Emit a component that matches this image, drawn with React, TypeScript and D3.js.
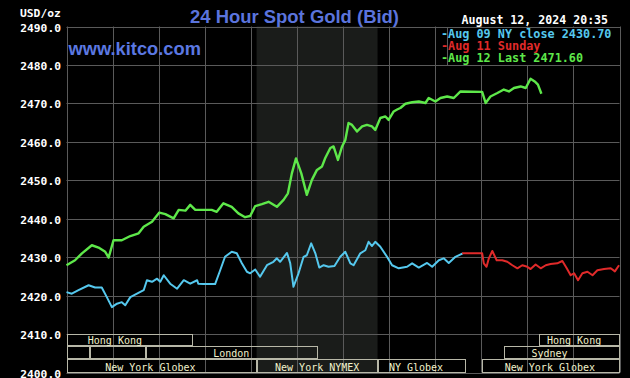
import React from "react";
import * as d3 from "d3";

// ---- data (time in hours ET, value USD/oz) ----
const aug12Hours = [0, 0.37, 0.67, 1.1, 1.39, 1.68, 1.83, 2.04, 2.4, 2.77, 3.13, 3.35, 3.71, 4.03, 4.29, 4.65, 4.87, 5.16, 5.37, 5.59, 5.85, 6.3, 6.52, 6.81, 7.17, 7.46, 7.75, 7.97, 8.19, 8.48, 8.77, 9.13, 9.42, 9.61, 9.78, 9.96, 10.19, 10.43, 10.65, 10.87, 11.09, 11.23, 11.45, 11.59, 11.78, 11.96, 12.1, 12.24, 12.39, 12.61, 12.83, 13.04, 13.26, 13.4, 13.62, 13.84, 13.98, 14.2, 14.35, 14.49, 14.71, 15.0, 15.29, 15.58, 15.72, 16.01, 16.23, 16.52, 16.81, 17.1, 18.04, 18.19, 18.4, 18.7, 18.98, 19.2, 19.42, 19.71, 19.93, 20.14, 20.32, 20.46, 20.61];
const aug12Values = [2427.9, 2429.2, 2431.0, 2433.1, 2432.5, 2431.4, 2429.9, 2434.4, 2434.4, 2435.5, 2436.2, 2437.9, 2439.2, 2441.6, 2441.2, 2440.1, 2442.3, 2442.1, 2443.6, 2442.3, 2442.3, 2442.3, 2441.8, 2444.0, 2443.1, 2441.4, 2440.4, 2440.7, 2443.3, 2443.8, 2444.4, 2443.1, 2444.9, 2446.6, 2451.8, 2455.7, 2451.8, 2446.2, 2450.1, 2452.7, 2453.6, 2455.8, 2458.4, 2458.8, 2455.3, 2458.8, 2460.5, 2464.9, 2464.4, 2462.7, 2464.0, 2464.4, 2464.0, 2463.1, 2466.2, 2466.6, 2465.7, 2467.9, 2468.4, 2468.8, 2469.9, 2470.3, 2470.5, 2470.1, 2471.4, 2470.5, 2471.4, 2471.8, 2471.4, 2473.1, 2473.0, 2470.1, 2471.8, 2472.7, 2473.6, 2473.1, 2474.0, 2474.4, 2474.0, 2476.4, 2475.7, 2474.9, 2472.5];

const aug09Hours = [0, 0.23, 0.52, 0.96, 1.24, 1.53, 1.75, 1.97, 2.19, 2.4, 2.55, 2.77, 3.06, 3.35, 3.49, 3.71, 3.93, 4.07, 4.22, 4.5, 4.8, 5.09, 5.37, 5.67, 5.72, 5.94, 6.45, 6.67, 6.88, 7.17, 7.39, 7.61, 7.83, 7.97, 8.19, 8.4, 8.7, 8.98, 9.13, 9.27, 9.57, 9.71, 9.85, 10.07, 10.29, 10.43, 10.62, 10.8, 10.97, 11.16, 11.37, 11.63, 11.88, 12.1, 12.32, 12.46, 12.75, 12.97, 13.11, 13.26, 13.4, 13.62, 13.91, 14.13, 14.42, 14.78, 15.0, 15.29, 15.65, 15.87, 16.16, 16.37, 16.59, 16.88, 17.2];
const aug09Values = [2420.9, 2420.5, 2421.4, 2422.7, 2422.1, 2422.1, 2419.6, 2417.0, 2417.9, 2418.3, 2417.5, 2419.6, 2420.5, 2421.4, 2424.0, 2423.6, 2424.4, 2423.6, 2425.3, 2423.1, 2421.8, 2424.0, 2423.1, 2424.0, 2423.1, 2423.0, 2423.0, 2426.6, 2430.1, 2431.4, 2431.0, 2428.4, 2426.2, 2425.8, 2426.8, 2424.9, 2427.9, 2428.8, 2429.7, 2428.8, 2431.1, 2428.4, 2422.3, 2425.8, 2430.1, 2430.5, 2433.6, 2431.0, 2427.3, 2427.9, 2427.5, 2427.7, 2430.1, 2431.4, 2428.4, 2427.9, 2431.0, 2431.8, 2434.0, 2432.9, 2434.0, 2432.7, 2430.1, 2427.9, 2427.1, 2427.5, 2428.4, 2427.3, 2428.5, 2427.5, 2429.2, 2429.7, 2428.5, 2430.1, 2431.0];

const aug11Hours = [17.17, 18.04, 18.11, 18.23, 18.33, 18.48, 18.67, 18.91, 19.13, 19.35, 19.57, 19.78, 20.0, 20.14, 20.36, 20.58, 20.8, 21.01, 21.3, 21.52, 21.71, 21.88, 22.03, 22.2, 22.39, 22.61, 22.83, 23.04, 23.33, 23.62, 23.8, 23.98];
const aug11Values = [2431.0, 2431.0, 2428.4, 2427.5, 2429.7, 2431.6, 2429.2, 2429.2, 2428.8, 2427.9, 2427.1, 2427.9, 2427.5, 2426.9, 2428.1, 2427.1, 2427.9, 2428.2, 2428.4, 2429.0, 2427.1, 2425.3, 2425.8, 2424.0, 2425.8, 2426.2, 2425.3, 2426.6, 2426.9, 2427.1, 2426.3, 2427.9];

const yTicks = [2400, 2410, 2420, 2430, 2440, 2450, 2460, 2470, 2480, 2490];
const xGridHours = [0, 2, 4, 6, 8, 10, 12, 14, 16, 18, 20, 22, 24];

const legendLabels = ["-Aug 09 NY close 2430.70", "-Aug 11 Sunday", "-Aug 12 Last 2471.60"];
const legendColors = ["#55c8ee", "#e02a2a", "#5ee84a"];

// sessions: row, start hour, end hour, label, label centre hour
const sessionRows = [0, 0, 1, 1, 1, 1, 2, 2, 2, 2];
const sessionStarts = [0, 20.5, 0, 1, 3.45, 18.97, 0, 8.25, 13.5, 18.02];
const sessionEnds = [5.48, 24, 1, 3.45, 10.93, 24, 8.25, 13.5, 17.33, 24];
const sessionNames = ["Hong Kong", "Hong Kong", "", "", "London", "Sydney", "New York Globex", "New York NYMEX", "NY Globex", "New York Globex"];
const sessionLabelAt = [2.1, 22.03, 0, 0, 7.15, 20.96, 3.64, 10.88, 15.17, 20.98];

const shadeStart = 8.25;
const shadeEnd = 13.5;

export default function App() {
  React.useEffect(() => {
    document.body.style.margin = "0";
    document.body.style.background = "#000";
  }, []);

  const W = 630, H = 378;
  const x = d3.scaleLinear().domain([0, 24]).range([66.5, 619.5]);
  const y = d3.scaleLinear().domain([2400, 2490]).range([372.5, 26.5]);

  const mk = (hs: number[], vs: number[]) =>
    d3.line<number>().x((_, i) => x(hs[i])).y((v) => y(v))(vs) || "";

  const grid = "#5a5a5a";
  const mono = "'DejaVu Sans Mono', 'Liberation Mono', monospace";
  const sans = "'Liberation Sans', Arial, sans-serif";

  const rowTop = [y(2410), y(2410) + 12.3, y(2410) + 25];
  const rowBot = [y(2410) + 12.3, y(2410) + 25, y(2400)];

  return (
    <svg width={W} height={H} style={{ position: "absolute", left: 0, top: 0, background: "#000" }}>
      <rect x={0} y={0} width={W} height={H} fill="#000" />
      <rect x={x(shadeStart)} y={y(2490)} width={x(shadeEnd) - x(shadeStart)} height={y(2400) - y(2490)} fill="#1a1c1a" />
      {yTicks.map((t) => (
        <line key={"gy" + t} x1={x(0)} x2={x(24)} y1={Math.round(y(t)) + 0.5} y2={Math.round(y(t)) + 0.5} stroke={grid} strokeWidth={1} />
      ))}
      {xGridHours.map((h) => (
        <line key={"gx" + h} x1={Math.round(x(h)) + 0.5} x2={Math.round(x(h)) + 0.5} y1={y(2490)} y2={y(2400)} stroke={grid} strokeWidth={1} />
      ))}
      {yTicks.map((t) => (
        <text key={"ty" + t} x={61} y={Math.round(y(t)) + 4.5} textAnchor="end" fill="#fff" fontFamily={mono} fontWeight="bold" fontSize={11.3}>
          {t.toFixed(1)}
        </text>
      ))}
      <text x={20} y={17} fill="#fff" fontFamily={mono} fontWeight="bold" fontSize={11.3}>USD/oz</text>

      {/* session bars */}
      {sessionRows.map((r, i) => {
        const x0 = Math.round(x(sessionStarts[i])) + 0.5;
        const x1 = Math.round(x(sessionEnds[i])) - 0.5;
        return (
          <g key={"s" + i}>
            <rect x={x0} y={Math.round(rowTop[r]) + 0.5} width={x1 - x0} height={Math.round(rowBot[r]) - Math.round(rowTop[r]) - 1} fill="none" stroke="#b8b8a8" strokeWidth={1} />
            {sessionNames[i] && (
              <text x={x(sessionLabelAt[i])} y={Math.round(rowBot[r]) - 2.5} textAnchor="middle" fill="#f2f2cc" fontFamily={mono} fontSize={10}>
                {sessionNames[i]}
              </text>
            )}
          </g>
        );
      })}

      {/* series */}
      <path d={mk(aug09Hours, aug09Values)} fill="none" stroke="#55c8ee" strokeWidth={2} strokeLinejoin="round" />
      <path d={mk(aug11Hours, aug11Values)} fill="none" stroke="#e02a2a" strokeWidth={2} strokeLinejoin="round" />
      <path d={mk(aug12Hours, aug12Values)} fill="none" stroke="#5ee84a" strokeWidth={2.4} strokeLinejoin="round" />

      {/* legend */}
      <rect x={Math.round(x(16.5)) + 0.5} y={Math.round(y(2490)) + 0.5} width={Math.round(x(24)) - Math.round(x(16.5))} height={Math.round(y(2480)) - Math.round(y(2490))} fill="#000" stroke={grid} strokeWidth={1} />
      {legendLabels.map((l, i) => (
        <text key={"lg" + i} x={441} y={37.5 + i * 12.4} fill={legendColors[i]} fontFamily={mono} fontWeight="bold" fontSize={11.8}>
          {l}
        </text>
      ))}

      {/* titles */}
      <text x={294.5} y={22.5} textAnchor="middle" fill="#5b74dd" fontFamily={sans} fontWeight="bold" fontSize={18} textLength={209} lengthAdjust="spacingAndGlyphs">
        24 Hour Spot Gold (Bid)
      </text>
      <text x={68.5} y={55} fill="#5b78e2" fontFamily={sans} fontWeight="bold" fontSize={17.5} textLength={132.5} lengthAdjust="spacingAndGlyphs">
        www.kitco.com
      </text>
      <text x={461.5} y={24} fill="#fff" fontFamily={mono} fontWeight="bold" fontSize={11.6}>
        August 12, 2024 20:35
      </text>
    </svg>
  );
}
